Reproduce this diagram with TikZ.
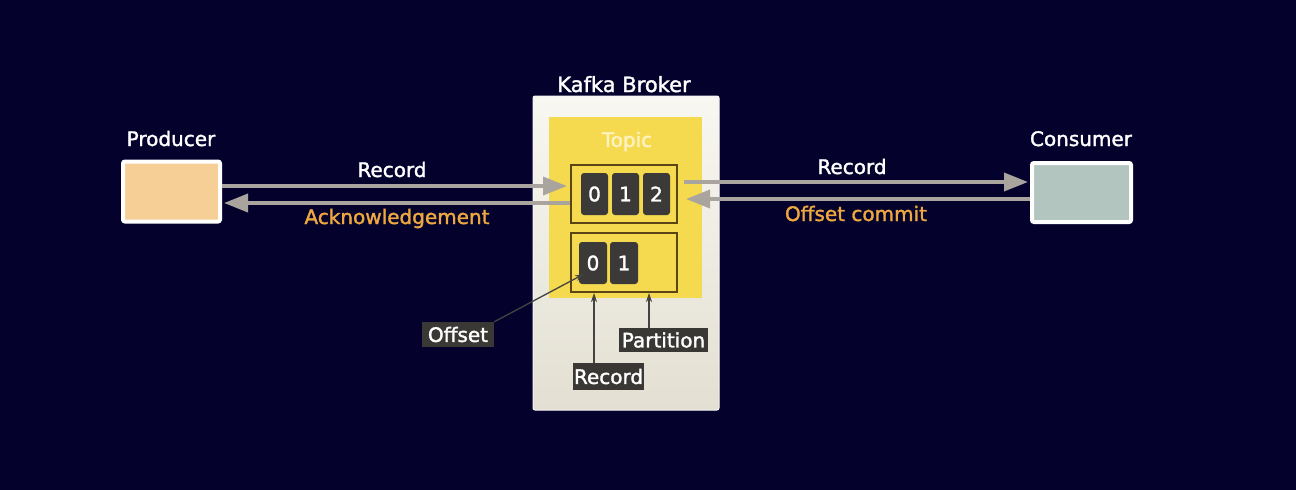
\documentclass[tikz,border=0pt]{standalone}
\usepackage{fontspec}
\setmainfont{DejaVu Sans}[BoldFont=DejaVu Sans,BoldFeatures={FakeBold=1.6}]
\usepackage{xcolor}
\usetikzlibrary{arrows.meta,calc,positioning}
\definecolor{bgnavy}{HTML}{04022D}
\definecolor{peach}{HTML}{F5CF95}
\definecolor{sage}{HTML}{B2C5BF}
\definecolor{topicyellow}{HTML}{F5D94E}
\definecolor{topictext}{HTML}{FFF3C4}
\definecolor{partbrown}{HTML}{5B4514}
\definecolor{cellgray}{HTML}{3C3A38}
\definecolor{taggray}{HTML}{3A3835}
\definecolor{arrowgray}{HTML}{A9A59E}
\definecolor{pointgray}{HTML}{454341}
\definecolor{ackorange}{HTML}{EFA840}
\definecolor{brokertop}{HTML}{F8F7F1}
\definecolor{brokerbot}{HTML}{E3DFD2}

\begin{document}
\begin{tikzpicture}[x=1pt,y=-1pt,
    every node/.style={font=\fontsize{20}{24}\selectfont\bfseries},
    client/.style={draw=white,line width=4pt,rounded corners=2pt,inner sep=0pt},
    partbox/.style={draw=partbrown,line width=2pt,minimum width=106pt,inner sep=0pt},
    cell/.style={fill=cellgray,rounded corners=3pt,minimum width=27pt,minimum height=42pt,inner sep=0pt,text=white},
    tag/.style={fill=taggray,text=white,inner sep=0pt},
    flow/.style={draw=arrowgray,line width=3.5pt,-{Triangle[length=24pt,width=18pt]}},
    pointer/.style={draw=pointgray,line width=1.3pt,-{Stealth[length=9pt,width=6pt]}}]
    % Background
    \fill[bgnavy] (0,0) rectangle (1296,490);
    \useasboundingbox (0,0) rectangle (1296,490);
    % Producer
    \node[client,fill=peach,minimum width=97pt,minimum height=60pt] (producer) at (171.5,191.5) {};
    \node[text=white,anchor=base] (prodlbl) at (171,146) {Producer};
    % Consumer
    \node[client,fill=sage,minimum width=99pt,minimum height=59pt] (consumer) at (1081.5,192.5) {};
    \node[text=white,anchor=base] (conslbl) at (1081,146) {Consumer};
    % Kafka Broker
    \node[draw=white!92!gray,line width=1pt,rounded corners=2pt,top color=brokertop,bottom color=brokerbot,minimum width=186pt,minimum height=314pt,inner sep=0pt] (broker) at (626,253) {};
    \node[text=white,anchor=base,font=\fontsize{21}{25}\selectfont\bfseries] (brokerlbl) at (624,92) {Kafka Broker};
    % Topic
    \node[fill=topicyellow,minimum width=153pt,minimum height=181pt,inner sep=0pt] (topic) at (625.5,207.5) {};
    \node[text=topictext,anchor=base] (topiclbl) at (627,147) {Topic};
    % Partitions
    \node[partbox,minimum height=58pt] (part1) at (624,194) {};
    \node[partbox,minimum height=59pt] (part2) at (624,262.5) {};
    \foreach \i in {0,1,2}
        \node[cell] (p\i) at (594.5+31*\i,194) {\i};
    \foreach \i in {0,1}
        \node[cell,minimum width=28pt] (q\i) at (593+31*\i,263) {\i};
    % Producer <-> broker
    \draw[flow] (producer.east |- 0,186) -- ([xshift=-3pt]part1.west |- 0,186);
    \draw[flow] (part1.west |- 0,203) -- ([xshift=2pt]producer.east |- 0,203);
    \node[text=white,anchor=base] (prodrec) at (392,177) {Record};
    \node[text=ackorange,anchor=base] (ack) at (397,224) {Acknowledgement};
    % Broker <-> consumer
    \draw[flow] ([xshift=6pt]part1.east |- 0,182) -- ([xshift=-2pt]consumer.west |- 0,182);
    \draw[flow] (consumer.west |- 0,199) -- ([xshift=8pt]part1.east |- 0,199);
    \node[text=white,anchor=base] (consrec) at (852,174) {Record};
    \node[text=ackorange,anchor=base] (commit) at (856,221) {Offset commit};
    % Tags
    \node[tag,minimum width=72pt,minimum height=25pt] (offtag) at (458,334.5) {Offset};
    \node[tag,minimum width=71pt,minimum height=27pt] (rectag) at (608.5,376.5) {Record};
    \node[tag,minimum width=89pt,minimum height=24pt] (parttag) at (663.5,340) {Partition};
    \coordinate (offtip) at (584,274);
    \draw[pointer] (offtag.north east) -- (offtip);
    \draw[pointer] ([xshift=-14.5pt]rectag.north) -- ([xshift=-14.5pt]rectag.north |- part2.south);
    \draw[pointer] ([xshift=-14.5pt]parttag.north) -- ([xshift=-14.5pt]parttag.north |- part2.south);
\end{tikzpicture}
\end{document}
